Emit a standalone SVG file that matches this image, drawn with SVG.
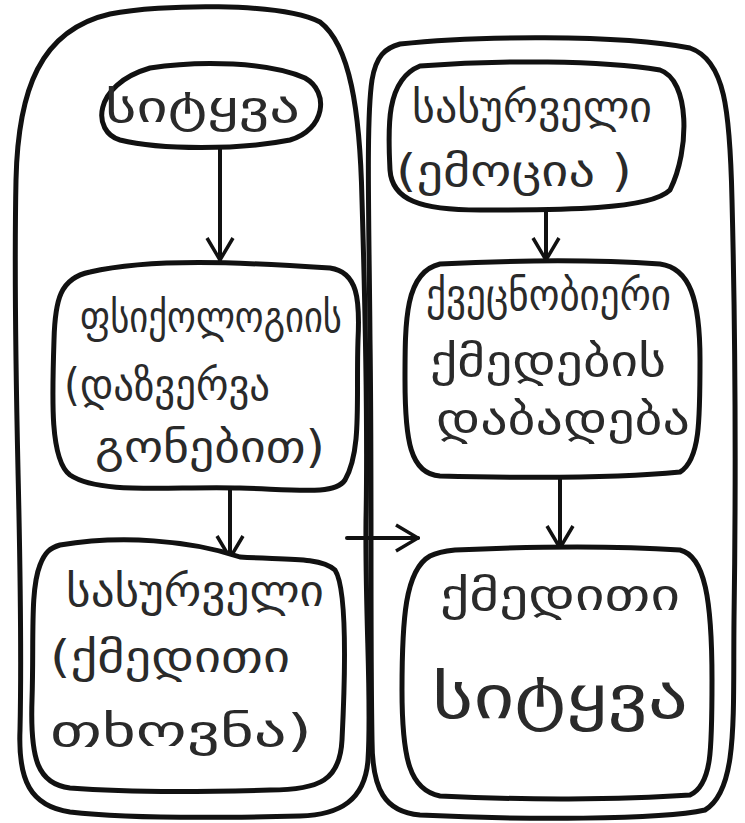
<svg xmlns="http://www.w3.org/2000/svg" width="745" height="823" viewBox="0 0 745 823">
<defs>
<marker id="ah" viewBox="0 0 26 30" refX="24" refY="15" markerWidth="26" markerHeight="30" markerUnits="userSpaceOnUse" orient="auto">
<path d="M2,2 L24,15 L2,28" fill="none" stroke="#111" stroke-width="3.5" stroke-linejoin="miter"/>
</marker>
<style>
.c{fill:none;stroke:#111;stroke-width:5;stroke-linejoin:round;stroke-linecap:round}
.b{fill:#fff;stroke:#111;stroke-width:5;stroke-linejoin:round}
.t{font-family:"DejaVu Sans","Noto Sans",sans-serif;font-size:44px;fill:#2a2a2a}
.a{fill:none;stroke:#111;stroke-width:4;stroke-linecap:round}
</style>
</defs>
<rect width="745" height="823" fill="#fff"/>
<g id="containers">
<path id="left-container" class="c" d="M110,14 C160,4 280,2 320,22 C350,45 360,110 362,200 C365,300 368,420 366,520 C365,620 372,700 368,760 C365,800 340,815 300,816 C220,818 120,818 70,812 C30,806 18,780 20,730 C22,640 20,560 18,470 C16,380 14,280 16,180 C18,90 40,30 110,14 Z"/>
<path id="right-container" class="c" d="M400,44 C470,36 620,34 690,48 C725,60 730,110 732,200 C735,320 736,480 734,620 C733,720 738,790 705,810 C660,820 520,820 420,815 C385,812 372,790 372,740 C370,620 372,480 370,340 C369,220 366,120 372,80 C376,56 385,48 400,44 Z"/>
</g>
<g id="connectors">
<path class="a" d="M220,142 L220,260" marker-end="url(#ah)"/>
<path class="a" d="M230,490 L230,558" marker-end="url(#ah)"/>
<path class="a" d="M347,538 L418,538" marker-end="url(#ah)"/>
<path class="a" d="M546,212 L546,260" marker-end="url(#ah)"/>
<path class="a" d="M560,478 L560,548" marker-end="url(#ah)"/>
</g>
<g id="n1">
<path class="b" d="M150,68 C200,60 270,62 305,78 C330,92 325,130 290,140 C240,150 160,150 120,140 C92,132 92,85 150,68 Z"/>
<text class="t" x="105" y="122" textLength="195" lengthAdjust="spacingAndGlyphs">სიტყვა</text>
</g>
<g id="n2">
<path class="b" d="M90,272 C150,258 240,262 330,268 C358,272 360,300 358,340 C356,400 362,450 345,480 C335,495 300,490 240,488 C170,486 100,495 70,475 C50,460 52,400 54,340 C55,300 60,278 90,272 Z"/>
<text class="t" x="80" y="332" textLength="262" lengthAdjust="spacingAndGlyphs">ფსიქოლოგიის</text>
<text class="t" x="64" y="400" textLength="206" lengthAdjust="spacingAndGlyphs">(დაზვერვა</text>
<text class="t" x="95" y="462" textLength="230" lengthAdjust="spacingAndGlyphs">გონებით)</text>
</g>
<g id="n3">
<path class="b" d="M60,545 C120,535 190,540 240,557 C280,560 320,556 335,570 C348,590 345,680 342,740 C340,780 320,790 270,790 C200,792 120,792 70,788 C38,784 30,760 32,700 C34,640 30,590 40,565 C45,552 50,548 60,545 Z"/>
<text class="t" x="66" y="606" textLength="258" lengthAdjust="spacingAndGlyphs">სასურველი</text>
<text class="t" x="50" y="672" textLength="240" lengthAdjust="spacingAndGlyphs">(ქმედითი</text>
<text class="t" x="50" y="746" textLength="262" lengthAdjust="spacingAndGlyphs">თხოვნა)</text>
</g>
<g id="n4">
<path class="b" d="M420,66 C500,60 600,60 660,70 C690,80 690,150 670,190 C650,210 560,210 480,210 C420,210 392,200 390,170 C388,130 385,80 420,66 Z"/>
<text class="t" x="412" y="122" textLength="240" lengthAdjust="spacingAndGlyphs">სასურველი</text>
<text class="t" x="396" y="186" textLength="236" lengthAdjust="spacingAndGlyphs">(ემოცია )</text>
</g>
<g id="n5">
<path class="b" d="M440,264 C520,260 600,260 660,264 C690,268 700,300 700,360 C700,420 700,460 680,472 C620,478 520,478 440,476 C410,474 405,440 405,380 C405,320 405,272 440,264 Z"/>
<text class="t" x="426" y="310" textLength="245" lengthAdjust="spacingAndGlyphs">ქვეცნობიერი</text>
<text class="t" x="430" y="376" textLength="236" lengthAdjust="spacingAndGlyphs">ქმედების</text>
<text class="t" x="436" y="434" textLength="254" lengthAdjust="spacingAndGlyphs">დაბადება</text>
</g>
<g id="n6">
<path class="b" d="M455,550 C540,546 620,546 680,550 C705,556 712,600 712,680 C712,750 712,785 690,795 C620,800 520,800 440,796 C410,790 402,760 402,690 C402,620 405,570 430,556 C438,552 446,551 455,550 Z"/>
<text class="t" x="440" y="610" textLength="240" lengthAdjust="spacingAndGlyphs">ქმედითი</text>
<text class="t" x="432" y="718" textLength="256" lengthAdjust="spacingAndGlyphs" style="font-size:60px">სიტყვა</text>
</g>
</svg>
